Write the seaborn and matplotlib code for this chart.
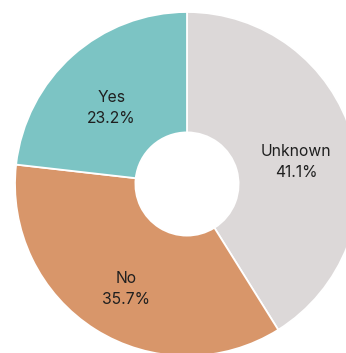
import numpy as np
import matplotlib
matplotlib.use("Agg")
import matplotlib.pyplot as plt
import seaborn as sns

# Share of responses by answer
categories = ["Unknown", "No", "Yes"]
shares = [41.1, 35.7, 23.2]
colors = ["#dcd8d8", "#d8966a", "#7cc4c4"]

sns.set_theme(style="white")
plt.rcParams["font.family"] = ["Inter", "DejaVu Sans"]

fig = plt.figure(figsize=(3.46, 3.53), dpi=100)
ax = fig.add_axes([0, 0, 1, 1])

wedges, _ = ax.pie(
    shares,
    colors=colors,
    startangle=90,
    counterclock=False,
    radius=1.0,
    wedgeprops=dict(width=0.70, edgecolor="white", linewidth=1.3),
)

# Labels sit near each wedge's middle angle, inside the ring, nudged down a bit
label_r = 0.66
y_shift = -0.052
for w, name, val in zip(wedges, categories, shares):
    mid = np.deg2rad((w.theta1 + w.theta2) / 2)
    x, y = label_r * np.cos(mid), label_r * np.sin(mid) + y_shift
    ax.text(x, y, f"{name}\n{val:.1f}%", ha="center", va="center",
            fontsize=11.3, color="#1f1f1f", linespacing=1.5)

ax.set_xlim(-187 / 172, (346 - 187) / 172)
ax.set_ylim(-(353 - 184) / 172, 184 / 172)
ax.set_aspect("equal")
ax.axis("off")

fig.savefig("out.png", dpi=100, facecolor="white")
